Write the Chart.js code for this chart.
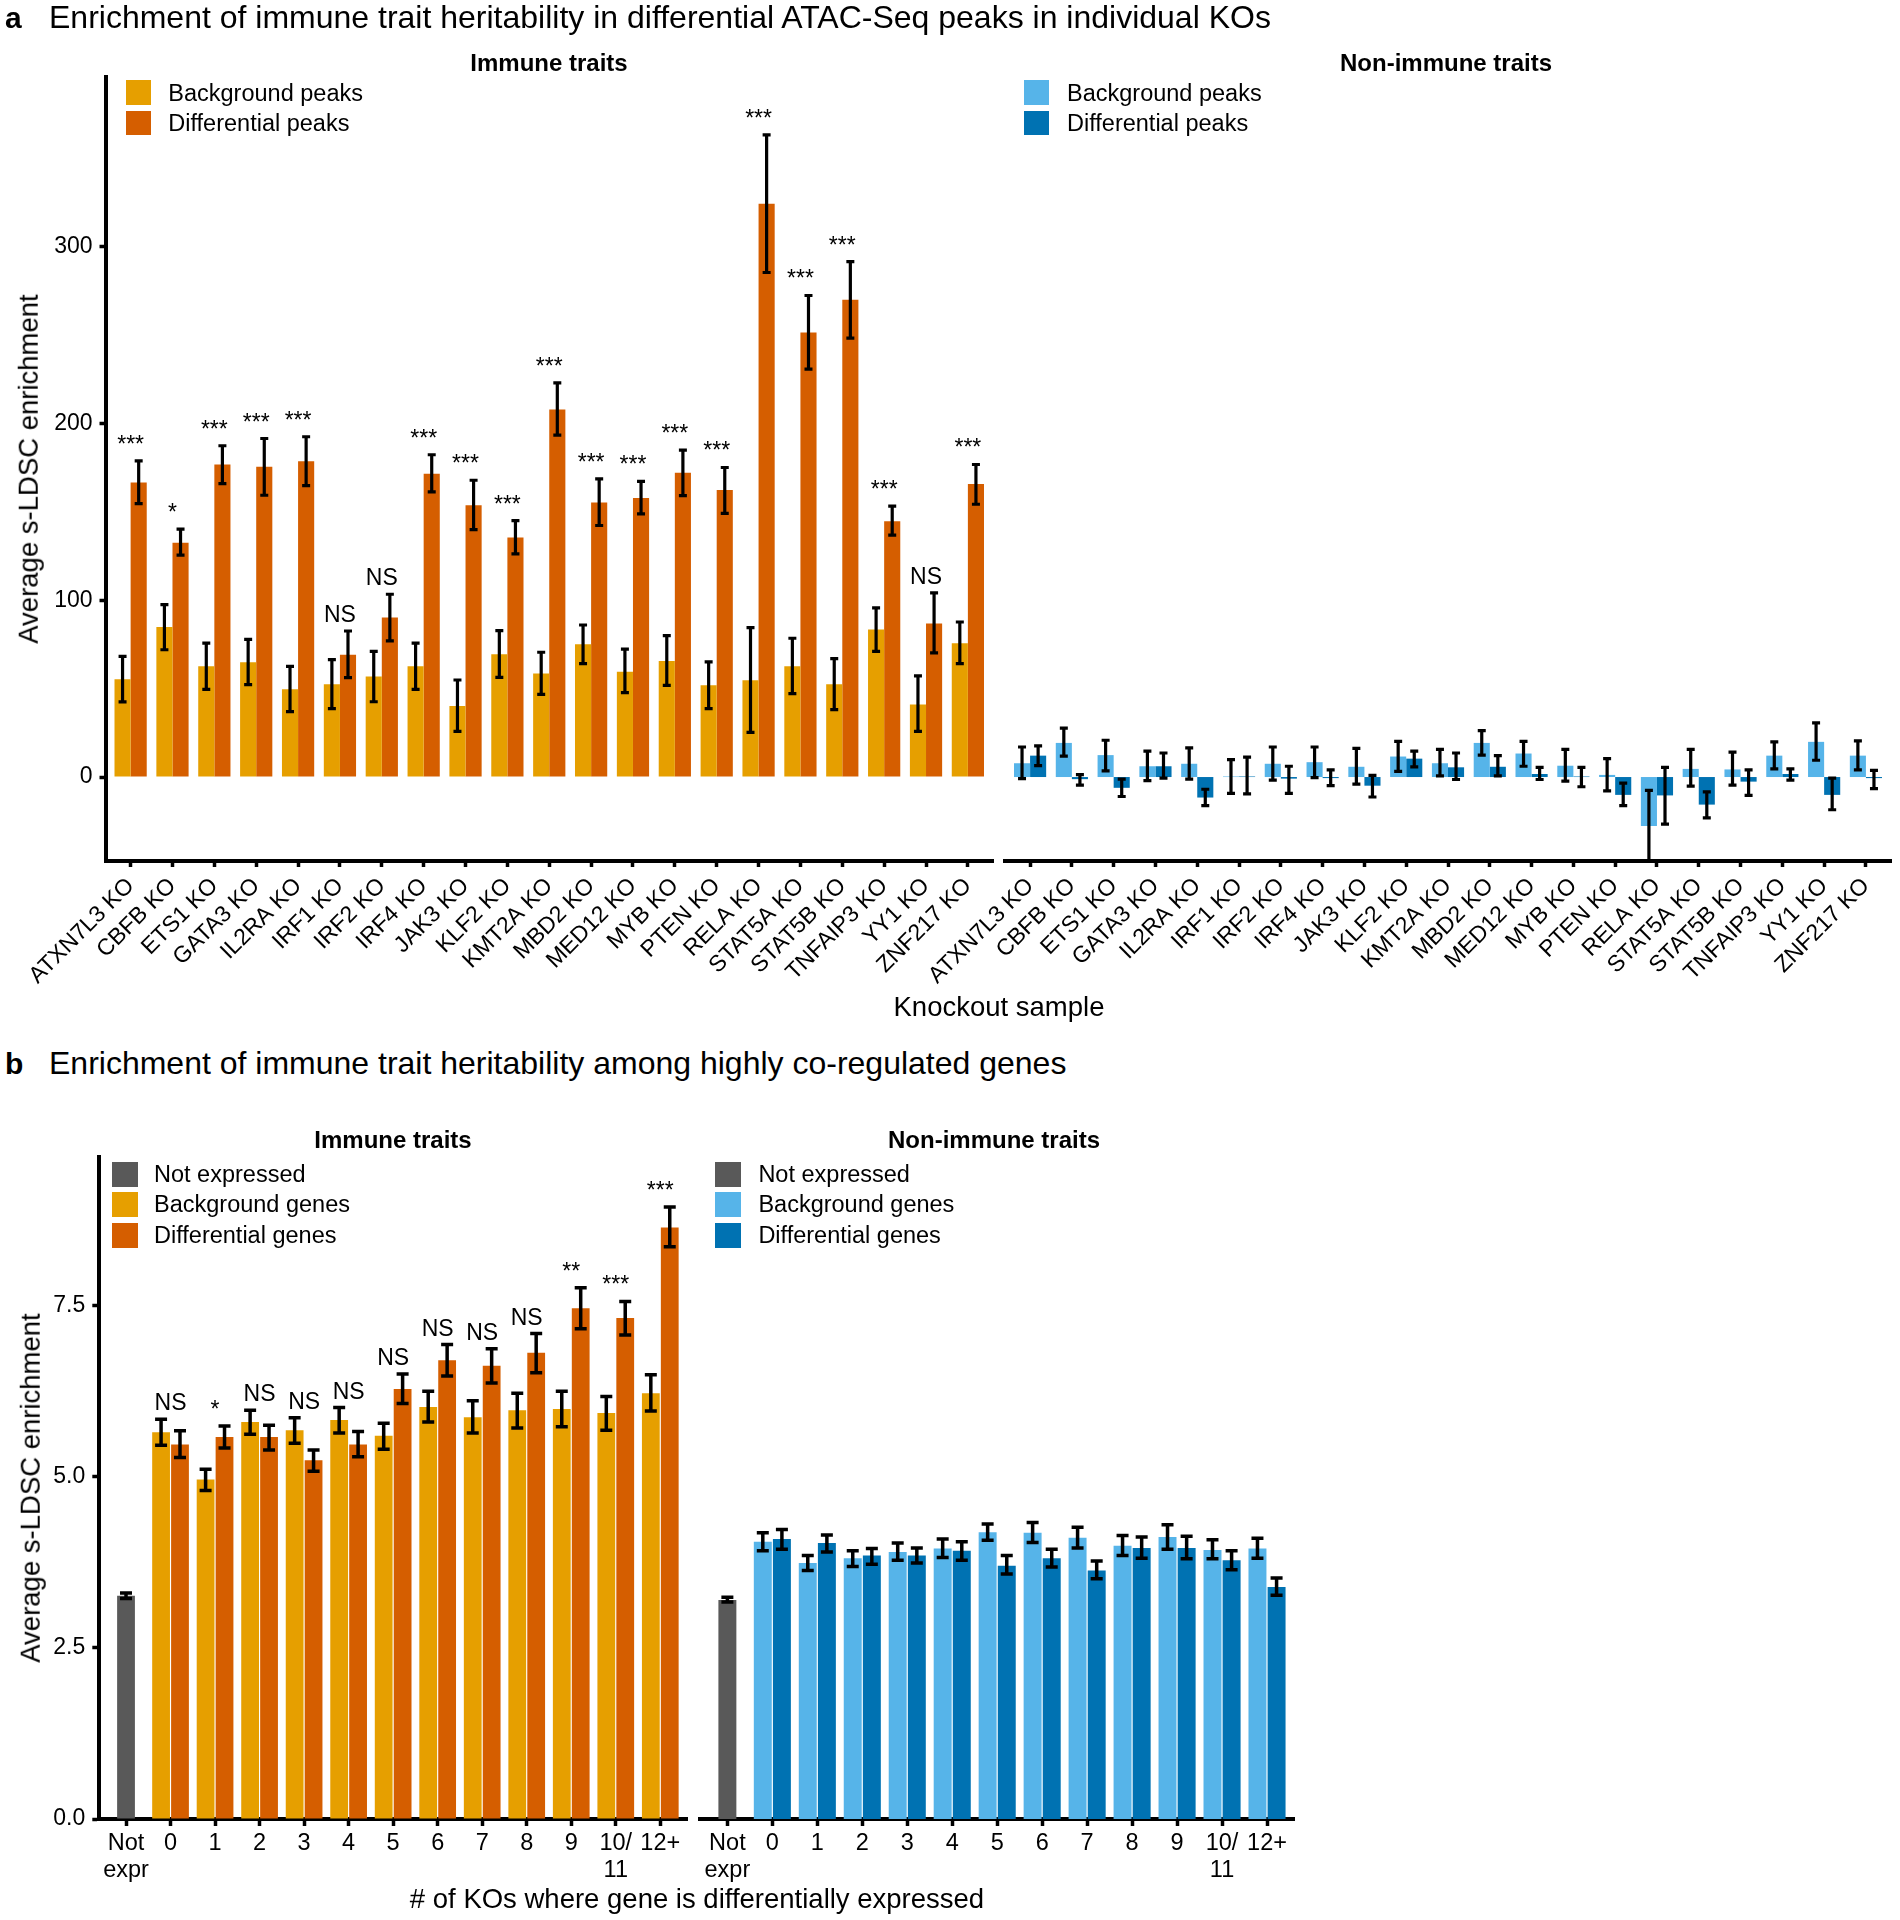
<!DOCTYPE html>
<html>
<head>
<meta charset="utf-8">
<script src="https://cdn.jsdelivr.net/npm/chart.js@4.4.1/dist/chart.umd.min.js"></script>
<style>
  body { margin: 0; background: #fff; width: 1900px; height: 1920px; position: relative; overflow: hidden;
         font-family: "Liberation Sans", Arial, Helvetica, sans-serif; }
  canvas { position: absolute; }
  .t { position: absolute; white-space: nowrap; line-height: 1; color: #000; transform-origin: 0 0; }
  .sw { position: absolute; }
</style>
</head>
<body>
<script>
// ---- panel a: knockouts ----
const koLabels = ["ATXN7L3 KO", "CBFB KO", "ETS1 KO", "GATA3 KO", "IL2RA KO", "IRF1 KO", "IRF2 KO",
  "IRF4 KO", "JAK3 KO", "KLF2 KO", "KMT2A KO", "MBD2 KO", "MED12 KO", "MYB KO", "PTEN KO",
  "RELA KO", "STAT5A KO", "STAT5B KO", "TNFAIP3 KO", "YY1 KO", "ZNF217 KO"];

const imBg     = [55.3, 84.9, 62.6, 64.9, 49.6, 52.5, 56.8, 62.6, 40.2, 69.4, 58.5, 75.1, 59.6, 65.7, 51.9, 54.7, 62.6, 52.5, 83.4, 41.1, 75.7];
const imBgLo   = [42.5, 72.0, 49.6, 52.3, 37.0, 38.7, 42.6, 49.6, 25.8, 56.4, 46.8, 64.2, 47.7, 51.9, 38.7, 25.3, 47.2, 38.1, 71.1, 25.8, 64.2];
const imBgHi   = [68.3, 97.5, 75.7, 77.9, 62.6, 66.4, 71.1, 75.8, 54.9, 82.8, 70.6, 86.0, 72.3, 80.0, 65.1, 84.5, 78.5, 67.0, 95.7, 57.2, 87.7];
const imDiff   = [166.6, 132.6, 176.8, 175.5, 178.7, 69.2, 90.2, 171.5, 153.8, 135.5, 207.9, 155.3, 157.9, 172.1, 162.3, 324.3, 251.4, 270.0, 144.7, 86.8, 165.7];
const imDiffLo = [154.7, 125.5, 166.0, 159.4, 164.9, 56.2, 77.0, 161.3, 140.0, 126.2, 193.4, 142.3, 148.9, 159.2, 149.1, 285.4, 230.7, 248.3, 136.8, 70.2, 154.3];
const imDiffHi = [178.9, 140.2, 187.4, 191.5, 192.5, 82.6, 103.4, 182.3, 167.9, 145.1, 223.0, 168.7, 167.2, 184.9, 175.1, 363.3, 272.4, 291.6, 153.2, 104.2, 176.8];
const imSig    = ["***", "*", "***", "***", "***", "NS", "NS", "***", "***", "***", "***", "***", "***", "***", "***", "***", "***", "***", "***", "NS", "***"];

const niBg     = [7.8, 19.3, 12.4, 6.1, 7.5, 0.3, 7.5, 8.4, 5.8, 11.6, 7.8, 19.3, 13.3, 6.4, 1.2, -27.7, 4.6, 4.3, 12.1, 19.9, 12.1];
const niBgLo   = [-0.9, 11.8, 3.5, -2.0, -1.2, -9.2, -1.7, -0.3, -4.0, 3.2, 0.6, 12.4, 6.1, -2.3, -7.8, -48.0, -5.2, -4.6, 4.6, 9.5, 4.0];
const niBgHi   = [17.0, 27.7, 20.8, 14.7, 16.5, 9.8, 17.0, 17.0, 16.2, 20.2, 15.6, 26.3, 20.2, 15.6, 10.4, -7.5, 15.6, 14.1, 19.9, 30.6, 20.5];
const niDiff   = [12.1, -1.2, -6.1, 6.1, -11.6, 0.3, -0.9, -0.6, -4.9, 10.4, 5.5, 5.8, 1.7, 0.3, -10.1, -10.4, -15.6, -2.6, 1.7, -10.1, -0.6];
const niDiffLo = [6.4, -4.6, -11.0, -0.6, -16.2, -9.5, -9.2, -4.9, -11.3, 5.8, -1.4, 0.6, -1.4, -5.5, -16.2, -26.6, -23.1, -10.4, -1.7, -18.5, -6.6];
const niDiffHi = [17.6, 1.4, -1.2, 13.6, -6.9, 11.3, 6.1, 4.0, 0.9, 14.7, 13.6, 12.1, 5.5, 5.5, -3.5, 5.5, -8.4, 4.0, 4.6, -0.6, 3.8];

const aTicks = [0, 100, 200, 300];

// ---- panel b: number of KOs ----
const nLabels = [["Not", "expr"], "0", "1", "2", "3", "4", "5", "6", "7", "8", "9", ["10/", "11"], "12+"];
const N = null;
const bImNot    = [3.26, N, N, N, N, N, N, N, N, N, N, N, N];
const bImNotLo  = [3.22, N, N, N, N, N, N, N, N, N, N, N, N];
const bImNotHi  = [3.30, N, N, N, N, N, N, N, N, N, N, N, N];
const bImBg     = [N, 5.65, 4.96, 5.80, 5.68, 5.83, 5.60, 6.02, 5.87, 5.97, 5.99, 5.93, 6.22];
const bImBgLo   = [N, 5.46, 4.80, 5.62, 5.49, 5.64, 5.40, 5.80, 5.64, 5.71, 5.73, 5.68, 5.96];
const bImBgHi   = [N, 5.84, 5.11, 5.97, 5.86, 6.01, 5.78, 6.25, 6.11, 6.22, 6.25, 6.17, 6.49];
const bImDiff   = [N, 5.47, 5.58, 5.58, 5.24, 5.47, 6.28, 6.70, 6.62, 6.81, 7.46, 7.32, 8.64];
const bImDiffLo = [N, 5.28, 5.42, 5.39, 5.08, 5.29, 6.07, 6.47, 6.37, 6.52, 7.16, 7.07, 8.36];
const bImDiffHi = [N, 5.67, 5.74, 5.75, 5.39, 5.66, 6.50, 6.93, 6.87, 7.09, 7.76, 7.56, 8.94];
const bImSig    = ["", "NS", "*", "NS", "NS", "NS", "NS", "NS", "NS", "NS", "**", "***", "***"];

const bNiNot    = [3.20, N, N, N, N, N, N, N, N, N, N, N, N];
const bNiNotLo  = [3.17, N, N, N, N, N, N, N, N, N, N, N, N];
const bNiNotHi  = [3.24, N, N, N, N, N, N, N, N, N, N, N, N];
const bNiBg     = [N, 4.05, 3.74, 3.81, 3.90, 3.95, 4.19, 4.18, 4.11, 3.99, 4.12, 3.93, 3.95];
const bNiBgLo   = [N, 3.92, 3.63, 3.69, 3.78, 3.82, 4.07, 4.04, 3.96, 3.85, 3.94, 3.80, 3.81];
const bNiBgHi   = [N, 4.18, 3.85, 3.92, 4.03, 4.09, 4.31, 4.33, 4.26, 4.14, 4.30, 4.08, 4.10];
const bNiDiff   = [N, 4.09, 4.03, 3.85, 3.85, 3.92, 3.70, 3.81, 3.63, 3.96, 3.96, 3.78, 3.39];
const bNiDiffLo = [N, 3.94, 3.90, 3.72, 3.74, 3.78, 3.58, 3.68, 3.51, 3.81, 3.80, 3.64, 3.27];
const bNiDiffHi = [N, 4.23, 4.15, 3.95, 3.96, 4.05, 3.85, 3.94, 3.77, 4.12, 4.13, 3.92, 3.52];

const bTicks = [0, 2.5, 5, 7.5];

const FONT = '"Liberation Sans", Arial, Helvetica, sans-serif';
Chart.defaults.font.family = FONT;
Chart.defaults.color = "#000";

// text placed by its baseline
function txt(s, x, y, size, o = {}) {
  const d = document.createElement("div");
  d.className = "t";
  d.textContent = s;
  d.style.fontSize = size + "px";
  if (o.bold) d.style.fontWeight = "bold";
  d.style.left = x + "px";
  d.style.top = y + "px";
  const dy = -0.8465 * size;
  const dx = o.align === "center" ? "-50%" : "0px";
  d.style.transform = o.rot ? `rotate(-90deg) translate(-50%, ${dy}px)` : `translate(${dx}, ${dy}px)`;
  document.body.appendChild(d);
}
function swatch(x, y, w, h, c) {
  const d = document.createElement("div");
  d.className = "sw";
  Object.assign(d.style, { left: x + "px", top: y + "px", width: w + "px", height: h + "px", background: c });
  document.body.appendChild(d);
}

function errBars(cap, lw) {
  return {
    id: "errBars",
    afterDatasetsDraw(chart) {
      const { ctx, chartArea: ca } = chart;
      const ys = chart.scales.y;
      ctx.save();
      ctx.beginPath();
      ctx.rect(ca.left, ca.top - 3, ca.right - ca.left, ca.bottom - ca.top + 3);
      ctx.clip();
      ctx.strokeStyle = "#000";
      ctx.lineWidth = lw;
      chart.data.datasets.forEach((ds, i) => {
        chart.getDatasetMeta(i).data.forEach((bar, j) => {
          if (ds.data[j] == null) return;
          const x = bar.x, y1 = ys.getPixelForValue(ds.lo[j]), y2 = ys.getPixelForValue(ds.hi[j]);
          ctx.beginPath();
          ctx.moveTo(x, y1); ctx.lineTo(x, y2);
          ctx.moveTo(x - cap, y1); ctx.lineTo(x + cap, y1);
          ctx.moveTo(x - cap, y2); ctx.lineTo(x + cap, y2);
          ctx.stroke();
        });
      });
      ctx.restore();
    }
  };
}

function sigText(labels, size) {
  return {
    id: "sigText",
    afterDatasetsDraw(chart) {
      if (!labels) return;
      const { ctx } = chart;
      const xs = chart.scales.x, ys = chart.scales.y;
      ctx.save();
      ctx.fillStyle = "#000";
      ctx.font = size + "px " + FONT;
      ctx.textAlign = "center";
      ctx.textBaseline = "alphabetic";
      labels.forEach((t, j) => {
        if (!t) return;
        let top = Infinity;
        chart.data.datasets.forEach(ds => {
          if (ds.hi[j] != null) top = Math.min(top, ys.getPixelForValue(ds.hi[j]));
        });
        ctx.fillText(t, xs.getPixelForValue(j), top - 9);
      });
      ctx.restore();
    }
  };
}

// box = canvas [x, y, w, h]; area = wanted plot area [left, top, right, bottom] in page px
function barChart(p) {
  const [x, y, w, h] = p.box;
  const [l, t, r, b] = p.area;
  const cv = document.createElement("canvas");
  cv.width = w; cv.height = h;
  cv.style.left = x + "px"; cv.style.top = y + "px";
  document.body.appendChild(cv);
  const n = p.labels.length;
  const axisGrid = { display: true, drawOnChartArea: false, offset: false, tickLength: p.tickLen, tickWidth: 3.5, tickColor: "#000" };
  new Chart(cv, {
    type: "bar",
    data: { labels: p.labels, datasets: p.datasets },
    options: {
      responsive: false,
      animation: false,
      events: [],
      layout: { padding: { left: p.showY ? 0 : l - x, top: t - y, right: x + w - r, bottom: 0 } },
      plugins: { legend: { display: false }, tooltip: { enabled: false } },
      scales: {
        x: {
          type: "category",
          offset: false,
          grid: axisGrid,
          border: { display: true, width: 4, color: "#000" },
          ticks: { autoSkip: false, maxRotation: p.rot, minRotation: p.rot, padding: p.xPad,
                   font: { size: p.xFont, lineHeight: 1.15 }, color: "#000" },
          afterBuildTicks: s => { s._startValue = -0.6; s._valueRange = n - 1 + 1.2; },
          afterFit: s => { s.height = y + h - b; }
        },
        y: {
          display: p.showY,
          min: p.yMin, max: p.yMax,
          grid: axisGrid,
          border: { display: true, width: 4, color: "#000" },
          ticks: { padding: 7, font: { size: 23 }, color: "#000", callback: p.yFmt },
          afterBuildTicks: s => { s.ticks = p.yTicks.map(v => ({ value: v })); },
          afterFit: s => { s.width = p.showY ? l - x : 0; }
        }
      }
    },
    plugins: [errBars(p.cap, p.lw), sigText(p.sig, 23)]
  });
}

const ORANGE_L = "#E69F00", ORANGE_D = "#D55E00", BLUE_L = "#56B4E9", BLUE_D = "#0072B2", GREY = "#595959";

function aSets(bg, bgLo, bgHi, df, dfLo, dfHi, c1, c2) {
  const common = { categoryPercentage: 0.77, barPercentage: 1.0, borderWidth: 0 };
  return [
    Object.assign({ label: "Background peaks", data: bg, lo: bgLo, hi: bgHi, backgroundColor: c1 }, common),
    Object.assign({ label: "Differential peaks", data: df, lo: dfLo, hi: dfHi, backgroundColor: c2 }, common)
  ];
}
function bSets(nt, ntLo, ntHi, bg, bgLo, bgHi, df, dfLo, dfHi, c1, c2) {
  const common = { categoryPercentage: 0.85, barPercentage: 0.94, borderWidth: 0, skipNull: true };
  return [
    Object.assign({}, common, { label: "Not expressed", data: nt, lo: ntLo, hi: ntHi, backgroundColor: GREY, barPercentage: 0.47 }),
    Object.assign({ label: "Background genes", data: bg, lo: bgLo, hi: bgHi, backgroundColor: c1 }, common),
    Object.assign({ label: "Differential genes", data: df, lo: dfLo, hi: dfHi, backgroundColor: c2 }, common)
  ];
}

const aCommon = { labels: koLabels, yMin: -47.5, yMax: 396, yTicks: aTicks, yFmt: v => String(v),
                  rot: 45, xFont: 23, xPad: 6, tickLen: 6, cap: 4, lw: 3.2 };
barChart(Object.assign({}, aCommon, {
  box: [0, 0, 1000, 1000], area: [105.5, 77, 993, 861], showY: true,
  datasets: aSets(imBg, imBgLo, imBgHi, imDiff, imDiffLo, imDiffHi, ORANGE_L, ORANGE_D), sig: imSig
}));
barChart(Object.assign({}, aCommon, {
  box: [880, 0, 1020, 1000], area: [1005, 77, 1891, 861], showY: false,
  datasets: aSets(niBg, niBgLo, niBgHi, niDiff, niDiffLo, niDiffHi, BLUE_L, BLUE_D), sig: null
}));

const bCommon = { labels: nLabels, yMin: 0, yMax: 9.67, yTicks: bTicks, yFmt: v => v.toFixed(1),
                  rot: 0, xFont: 23.5, xPad: 4, tickLen: 7, cap: 6, lw: 3.5 };
barChart(Object.assign({}, bCommon, {
  box: [0, 1100, 700, 820], area: [99.3, 1157, 687, 1819], showY: true,
  datasets: bSets(bImNot, bImNotLo, bImNotHi, bImBg, bImBgLo, bImBgHi, bImDiff, bImDiffLo, bImDiffHi, ORANGE_L, ORANGE_D),
  sig: bImSig
}));
barChart(Object.assign({}, bCommon, {
  box: [660, 1100, 650, 820], area: [700.4, 1157, 1294, 1819], showY: false,
  datasets: bSets(bNiNot, bNiNotLo, bNiNotHi, bNiBg, bNiBgLo, bNiBgHi, bNiDiff, bNiDiffLo, bNiDiffHi, BLUE_L, BLUE_D),
  sig: null
}));

// titles
txt("a", 5, 27.5, 30, { bold: true });
txt("Enrichment of immune trait heritability in differential ATAC-Seq peaks in individual KOs", 49, 27.5, 32);
txt("b", 5, 1074, 30, { bold: true });
txt("Enrichment of immune trait heritability among highly co-regulated genes", 49, 1074, 32);

// facet strips
txt("Immune traits", 549, 70.7, 24, { bold: true, align: "center" });
txt("Non-immune traits", 1446, 70.7, 24, { bold: true, align: "center" });
txt("Immune traits", 393, 1148.3, 24, { bold: true, align: "center" });
txt("Non-immune traits", 994, 1148.3, 24, { bold: true, align: "center" });

// legends
const legA = ["Background peaks", "Differential peaks"];
[[125.7, 168.3, [ORANGE_L, ORANGE_D]], [1024.2, 1067, [BLUE_L, BLUE_D]]].forEach(([sx, tx, cols]) => {
  legA.forEach((s, i) => {
    swatch(sx, 80 + i * 30.6, 25, 24.6, cols[i]);
    txt(s, tx, 101.7 + i * 30.6, 23.5);
  });
});
const legB = ["Not expressed", "Background genes", "Differential genes"];
[[111.6, 154, [GREY, ORANGE_L, ORANGE_D]], [714.8, 758.4, [GREY, BLUE_L, BLUE_D]]].forEach(([sx, tx, cols]) => {
  legB.forEach((s, i) => {
    swatch(sx, 1161.7 + i * 30.5, 26, 25, cols[i]);
    txt(s, tx, 1182.7 + i * 30.5, 23.5);
  });
});

// axis titles
txt("Average s-LDSC enrichment", 38.3, 469, 27.5, { rot: true });
txt("Knockout sample", 999, 1016, 27.5, { align: "center" });
txt("Average s-LDSC enrichment", 39.5, 1488, 27.5, { rot: true });
txt("# of KOs where gene is differentially expressed", 697, 1908, 27.5, { align: "center" });
</script>
</body>
</html>
